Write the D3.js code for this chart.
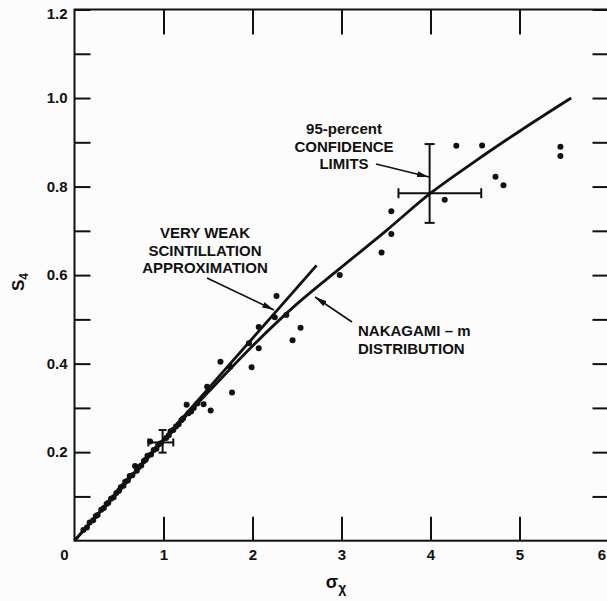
<!DOCTYPE html>
<html><head><meta charset="utf-8">
<script src="https://cdn.jsdelivr.net/npm/d3@7"></script>
<style>body{margin:0;background:#fcfcfc} svg{display:block}</style>
</head><body>
<script>
// ---- data ----
const xTickValues = [0, 1, 2, 3, 4, 5, 6];
const yTickValues = [0.1, 0.2, 0.3, 0.4, 0.5, 0.6, 0.7, 0.8, 0.9, 1.0, 1.1, 1.2];
const yLabelValues = [0.2, 0.4, 0.6, 0.8, 1.0, 1.2];

const pointX = [0.10,0.14,0.17,0.21,0.24,0.26,0.30,0.33,0.36,0.38,0.41,0.44,0.47,0.50,0.52,0.55,0.57,0.60,0.62,0.65,0.68,0.70,0.72,0.75,0.78,0.80,0.82,0.85,0.86,0.89,0.92,0.94,0.97,1.03,1.06,1.08,1.11,1.14,1.17,1.20,1.22,1.26,1.28,1.31,1.34,1.38,1.45,1.49,1.53,1.64,1.75,1.77,1.96,1.99,2.07,2.07,2.25,2.27,2.38,2.45,2.54,2.98,3.45,3.56,3.56,4.16,4.29,4.58,4.73,4.82,5.46,5.46];
const pointY = [0.024,0.030,0.041,0.046,0.056,0.058,0.070,0.074,0.083,0.086,0.095,0.098,0.108,0.113,0.121,0.124,0.133,0.136,0.146,0.148,0.169,0.158,0.166,0.170,0.180,0.183,0.192,0.224,0.195,0.205,0.208,0.217,0.220,0.232,0.238,0.247,0.250,0.258,0.263,0.272,0.276,0.307,0.288,0.292,0.300,0.310,0.308,0.348,0.294,0.404,0.393,0.335,0.446,0.392,0.483,0.435,0.505,0.553,0.510,0.453,0.481,0.600,0.651,0.693,0.744,0.770,0.892,0.893,0.822,0.803,0.890,0.869];

const nakagamiX = [0, 0.5, 1.0, 1.5, 2.0, 2.5, 3.0, 3.5, 4.0, 4.5, 5.0, 5.58];
const nakagamiY = [0, 0.114, 0.226, 0.335, 0.440, 0.535, 0.618, 0.700, 0.785, 0.857, 0.925, 1.0];

const weakX = [0, 2.72];
const weakY = [0, 0.622];

const errCX = [0.99, 3.99];
const errCY = [0.222, 0.785];
const errXLo = [0.83, 3.64];
const errXHi = [1.11, 4.57];
const errYLo = [0.199, 0.718];
const errYHi = [0.250, 0.896];

// ---- setup ----
const W = 607, H = 601;
const svg = d3.select("body").append("svg").attr("width", W).attr("height", H);
const x = d3.scaleLinear().domain([0, 6]).range([74.5, 608.5]);
const y = d3.scaleLinear().domain([0, 1.2]).range([540.7, 9.5]);
const FONT = "'Liberation Sans', Arial, sans-serif";
const ink = "#111";

// frame
svg.append("rect").attr("x", x(0)).attr("y", y(1.2))
  .attr("width", x(6) - x(0)).attr("height", y(0) - y(1.2))
  .attr("fill", "none").attr("stroke", ink).attr("stroke-width", 2);

// axes (inward ticks)
const axB = svg.append("g").attr("transform", `translate(0,${y(0)})`)
  .call(d3.axisBottom(x).tickValues(xTickValues).tickSizeInner(-24).tickSizeOuter(0).tickPadding(9)
    .tickFormat(d3.format("d")));
const axT = svg.append("g").attr("transform", `translate(0,${y(1.2)})`)
  .call(d3.axisTop(x).tickValues([1,2,3,4,5]).tickSizeInner(-25).tickSizeOuter(0).tickFormat(""));
const axL = svg.append("g").attr("transform", `translate(${x(0)},0)`)
  .call(d3.axisLeft(y).tickValues(yTickValues).tickSizeInner(-16).tickSizeOuter(0).tickPadding(7)
    .tickFormat(d => yLabelValues.some(v => Math.abs(v - d) < 1e-9) ? d3.format(".1f")(d) : ""));
const axR = svg.append("g").attr("transform", `translate(${x(6)},0)`)
  .call(d3.axisRight(y).tickValues(yTickValues).tickSizeInner(-16).tickSizeOuter(0).tickFormat(""));

[axB, axT, axL, axR].forEach(g => {
  g.select(".domain").remove();
  g.selectAll(".tick line").attr("stroke", ink).attr("stroke-width", 2);
  g.selectAll("text").attr("font-family", FONT).attr("font-size", 15).attr("font-weight", "bold").attr("fill", ink);
});
axB.selectAll(".tick").filter(d => d === 0).attr("transform", `translate(${x(0) - 10},0)`).select("line").remove();
const six = axB.selectAll(".tick").filter(d => d === 6).attr("transform", `translate(${W - 1},0)`);
six.select("line").remove();
six.select("text").attr("text-anchor", "end");
axL.selectAll(".tick").filter(d => Math.abs(d - 1.2) < 1e-9).select("text").attr("dy", "0.62em");

// axis titles
const xt = svg.append("text").attr("x", 336).attr("y", 588).attr("text-anchor", "middle")
  .attr("font-family", FONT).attr("font-size", 18).attr("font-weight", "bold").attr("fill", ink);
xt.append("tspan").text("σ");
xt.append("tspan").attr("dy", 5).attr("font-size", 14).text("χ");

const yt = svg.append("text").attr("transform", "translate(24,282) rotate(-90)").attr("text-anchor", "middle")
  .attr("font-family", FONT).attr("font-size", 17).attr("font-weight", "bold").attr("fill", ink);
yt.append("tspan").text("S");
yt.append("tspan").attr("dy", 4).attr("font-size", 12).text("4");

// curves
const line = d3.line().x(d => x(d[0])).y(d => y(d[1]));
svg.append("path").datum(weakX.map((v, i) => [v, weakY[i]]))
  .attr("d", line).attr("fill", "none").attr("stroke", ink).attr("stroke-width", 2.8);
svg.append("path").datum(nakagamiX.map((v, i) => [v, nakagamiY[i]]))
  .attr("d", line.curve(d3.curveMonotoneX)).attr("fill", "none").attr("stroke", ink).attr("stroke-width", 2.8);

// points
svg.append("g").selectAll("circle").data(pointX.map((v, i) => [v, pointY[i]])).join("circle")
  .attr("cx", d => x(d[0])).attr("cy", d => y(d[1])).attr("r", 3).attr("fill", ink);

// error bars
const eb = svg.append("g").attr("stroke", ink).attr("stroke-width", 2);
errCX.forEach((cx, i) => {
  const cap = i === 0 ? 4 : 5;
  eb.append("line").attr("x1", x(cx)).attr("x2", x(cx)).attr("y1", y(errYLo[i])).attr("y2", y(errYHi[i]));
  eb.append("line").attr("x1", x(errXLo[i])).attr("x2", x(errXHi[i])).attr("y1", y(errCY[i])).attr("y2", y(errCY[i]));
  [errYLo[i], errYHi[i]].forEach(v => eb.append("line").attr("x1", x(cx) - cap).attr("x2", x(cx) + cap).attr("y1", y(v)).attr("y2", y(v)));
  [errXLo[i], errXHi[i]].forEach(v => eb.append("line").attr("x1", x(v)).attr("x2", x(v)).attr("y1", y(errCY[i]) - cap).attr("y2", y(errCY[i]) + cap));
});

// annotations
svg.append("defs").append("marker").attr("id", "ah").attr("viewBox", "0 0 12 6")
  .attr("refX", 12).attr("refY", 3).attr("markerWidth", 12).attr("markerHeight", 6)
  .attr("markerUnits", "userSpaceOnUse").attr("orient", "auto")
  .append("path").attr("d", "M0,0 L12,3 L0,6 Z").attr("fill", ink);

function label(lines, cx, y0, anchor) {
  const t = svg.append("text").attr("font-family", FONT).attr("font-size", 15).attr("font-weight", "bold")
    .attr("fill", ink).attr("text-anchor", anchor);
  lines.forEach((s, i) => t.append("tspan").attr("x", cx).attr("y", y0 + i * 17.5).text(s));
}
label(["95-percent", "CONFIDENCE", "LIMITS"], 344, 134, "middle");
label(["VERY WEAK", "SCINTILLATION", "APPROXIMATION"], 205, 238, "middle");
label(["NAKAGAMI – m", "DISTRIBUTION"], 358, 336, "start");

function arrow(x1, y1, x2, y2) {
  svg.append("line").attr("x1", x1).attr("y1", y1).attr("x2", x2).attr("y2", y2)
    .attr("stroke", ink).attr("stroke-width", 1.6).attr("marker-end", "url(#ah)");
}
arrow(376, 164, 429, 177);
arrow(207, 278, 274, 310);
arrow(352, 322, 315, 297);
</script>
</body></html>
